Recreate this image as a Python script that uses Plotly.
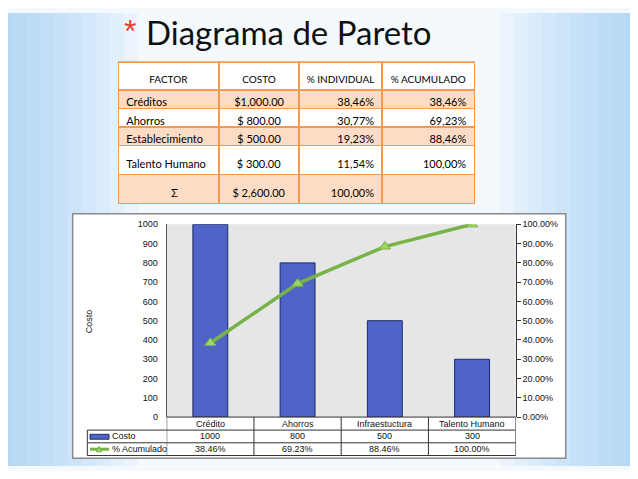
import plotly.graph_objects as go

# ---- data ----
factores = ["Créditos", "Ahorros", "Establecimiento", "Talento Humano"]
costos = [1000, 800, 500, 300]
pct_individual = [38.46, 30.77, 19.23, 11.54]
pct_acumulado = [38.46, 69.23, 88.46, 100.00]
categorias = ["Crédito", "Ahorros", "Infraestuctura", "Talento Humano"]
encabezados = ["FACTOR", "COSTO", "% INDIVIDUAL", "% ACUMULADO"]
series = ["Costo", "% Acumulado"]

# the page body keeps an 8px margin round the figure
OFF = 8
W, H = 638 - 2 * OFF, 479 - 2 * OFF


def px(x):
    return (x - OFF) / W


def py(y):
    return 1 - (y - OFF) / H


def dinero(v):
    s = "{:,.2f}".format(v)
    return "$" + s if v >= 1000 else "$ " + s


def pct_es(v):
    return "{:.2f}%".format(v).replace(".", ",")


total = sum(costos)

# top table columns
alto = ["<br>" if f == "Talento Humano" else "" for f in factores]
col_factor = [a + f for a, f in zip(alto, factores)] + ["<br>" + "\u00a0" * 16 + "Σ"]
col_costo = [a + dinero(c) for a, c in zip(alto, costos)] + ["<br>$ {:,.2f}".format(total)]
col_ind = [a + pct_es(v) for a, v in zip(alto, pct_individual)] + ["<br>" + pct_es(sum(pct_individual))]
col_acu = [a + pct_es(v) for a, v in zip(alto, pct_acumulado)] + ["<br> "]

peach = "#fcdcc4"
fills = [peach, "white", peach, "white", peach]
orange = "#f29a52"

fig = go.Figure()

fig.add_trace(go.Table(
    domain=dict(x=[px(118.3), px(475)], y=[py(205), py(58.3)]),
    columnwidth=[101, 80, 83.4, 92.3],
    header=dict(values=["<br>" + h for h in encabezados],
                fill_color="white", line_color=orange, line_width=1.5,
                align="center", height=19,
                font=dict(family="Lato", size=10, color="#000")),
    cells=dict(values=[col_factor, col_costo, col_ind, col_acu],
               fill_color=[fills] * 4, line_color=orange, line_width=1.5,
               align=["left", "center", "right", "right"],
               height=18.5,
               font=dict(family="Lato", size=11, color="#000")),
))

# ---- chart ----
fig.add_trace(go.Bar(x=categorias, y=costos, name=series[0], width=0.4,
                     marker=dict(color="#4f64c6", line=dict(color="#1c2a6a", width=1))))
fig.add_trace(go.Scatter(x=categorias, y=[v / 100 for v in pct_acumulado], name=series[1],
                         yaxis="y2", mode="lines+markers",
                         line=dict(color="#77b347", width=3.5),
                         marker=dict(symbol="triangle-up", size=10, color="#9fd660",
                                     line=dict(color="#77b347", width=1))))

shapes = []
# slide background: blue at the edges fading to white
for i in range(10):
    w = 4 + i * 14
    shapes.append(dict(type="rect", xref="paper", yref="paper", x0=0, x1=w / W, y0=0, y1=1,
                       fillcolor="#8ec4ef", opacity=0.09, line_width=0, layer="below"))
    shapes.append(dict(type="rect", xref="paper", yref="paper", x0=1 - w / W, x1=1, y0=0, y1=1,
                       fillcolor="#8ec4ef", opacity=0.09, line_width=0, layer="below"))
# chart area
shapes.append(dict(type="rect", xref="paper", yref="paper", x0=px(72.7), x1=px(565.7),
                   y0=py(463), y1=py(213.3), fillcolor="white",
                   line=dict(color="#8a8a8a", width=1.5), layer="below"))
shapes.append(dict(type="rect", xref="x domain", yref="y domain", x0=0, x1=1, y0=0, y1=1,
                   fillcolor="#e6e6e6", line_width=0, layer="below"))

# data table under the plot area
row_y = [421, 434.3, 447.3, 460.3]
grid = dict(color="#333", width=1)
for k, yy in enumerate(row_y):
    x0 = px(166.7) if k == 0 else px(87.3)
    shapes.append(dict(type="line", xref="paper", yref="paper", x0=x0, x1=px(515.7),
                       y0=py(yy), y1=py(yy), line=grid))
shapes.append(dict(type="line", xref="paper", yref="paper", x0=px(87.3), x1=px(87.3),
                   y0=py(row_y[1]), y1=py(row_y[3]), line=grid))
for k in range(len(categorias) + 1):
    shapes.append(dict(type="line", xref="x", yref="paper", x0=k - 0.5, x1=k - 0.5,
                       y0=py(row_y[0]), y1=py(row_y[3]), line=grid))
# legend keys
shapes.append(dict(type="rect", xref="paper", yref="paper", x0=px(90), x1=px(109),
                   y0=py(443.6), y1=py(438.6), fillcolor="#4f64c6",
                   line=dict(color="#1c2a6a", width=1)))
shapes.append(dict(type="line", xref="paper", yref="paper", x0=px(90), x1=px(109),
                   y0=py(453.8), y1=py(453.8), line=dict(color="#77b347", width=3)))
shapes.append(dict(type="path", xref="paper", yref="paper",
                   path="M {} {} L {} {} L {} {} Z".format(px(96.5), py(456.5), px(101.5), py(456.5),
                                                           px(99), py(451)),
                   fillcolor="#9fd660", line=dict(color="#77b347", width=1)))

tfont = dict(family="Liberation Sans", size=9, color="#111")


def nota(text, x, y, xref="paper", xanchor="center", **kw):
    return dict(text=text, x=x, y=y, xref=xref, yref="paper", xanchor=xanchor,
                yanchor="middle", showarrow=False, **kw)


annotations = [
    nota("*", px(130), py(26), font=dict(family="Liberation Sans", size=32, color="#e0412e")),
    nota("Diagrama de Pareto", px(144), py(27.5), xanchor="left",
         font=dict(family="Lato", size=33, color="#111")),
    nota("Costo", px(89), py(323), textangle=-90, font=tfont),
]
mid = [(row_y[i] + row_y[i + 1]) / 2 for i in range(3)]
for cat, c, p in zip(categorias, costos, pct_acumulado):
    annotations.append(nota(cat, cat, py(mid[0]), xref="x", font=tfont))
    annotations.append(nota(str(c), cat, py(mid[1]), xref="x", font=tfont))
    annotations.append(nota("{:.2f}%".format(p), cat, py(mid[2]), xref="x", font=tfont))
for s, m in zip(series, mid[1:]):
    annotations.append(nota(s, px(109.5), py(m), xanchor="left", font=tfont))

fig.update_layout(
    width=W, height=H, margin=dict(l=0, r=0, t=0, b=0),
    paper_bgcolor="#f4f9fe", plot_bgcolor="#e6e6e6",
    showlegend=False, bargap=0.6,
    shapes=shapes, annotations=annotations,
    xaxis=dict(domain=[px(166.7), px(515.7)], range=[-0.5, 3.5], showticklabels=False, ticks="",
               showgrid=False, zeroline=False, showline=False),
    yaxis=dict(domain=[py(421), py(224)], range=[0, 1000], dtick=100,
               showgrid=False, zeroline=False, showline=True, linecolor="#555", linewidth=1,
               ticks="outside", ticklen=6, tickcolor="rgba(0,0,0,0)",
               tickfont=tfont),
    yaxis2=dict(overlaying="y", side="right", range=[0, 1], dtick=0.1, tickformat=".2%",
                showgrid=False, zeroline=False, showline=True, linecolor="#333", linewidth=1,
                ticks="outside", ticklen=4, tickcolor="#333",
                tickfont=tfont),
)

fig.write_html("out.html")
